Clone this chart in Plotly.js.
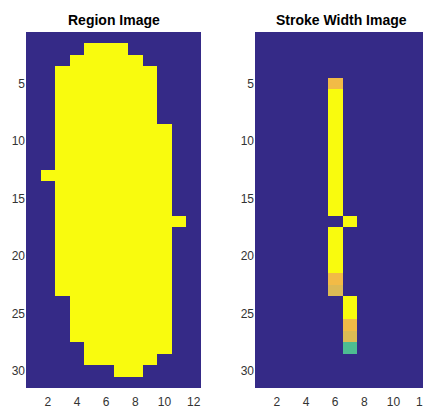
<!DOCTYPE html>
<html>
<head>
<meta charset="utf-8">
<script src="https://cdn.plot.ly/plotly-3.0.1.min.js"></script>
<style>html,body{margin:0;padding:0;background:#fff;}#chart{width:423px;height:410px;}</style>
</head>
<body>
<div id="chart"></div>
<script>
// Region image: 31 rows x 12 columns, 1 = region pixel
var regionRows = [
  "000000000000",
  "000011100000",
  "000111110000",
  "001111111000",
  "001111111000",
  "001111111000",
  "001111111000",
  "001111111000",
  "001111111100",
  "001111111100",
  "001111111100",
  "001111111100",
  "011111111100",
  "001111111100",
  "001111111100",
  "001111111100",
  "001111111110",
  "001111111100",
  "001111111100",
  "001111111100",
  "001111111100",
  "001111111100",
  "001111111100",
  "000111111100",
  "000111111100",
  "000111111100",
  "000111111100",
  "000011111100",
  "000011111000",
  "000000110000",
  "000000000000"
];

// Stroke width image: non-zero pixels (row, column, value)
var strokeRow   = [5, 6, 7, 8, 9, 10, 11, 12, 13, 14, 15, 16, 17, 18, 19, 20, 21, 22, 23, 24, 25, 26, 27, 28];
var strokeCol   = [6, 6, 6, 6, 6, 6, 6, 6, 6, 6, 6, 6, 7, 6, 6, 6, 6, 6, 6, 7, 7, 7, 7, 7];
var strokeValue = [3, 3.606, 3.606, 3.606, 3.606, 3.606, 3.606, 3.606, 3.606, 3.606, 3.606, 3.606,
                   3.606, 3.606, 3.606, 3.606, 3.606, 3, 2.828, 3.606, 3.606, 3, 2.828, 2];

var nRows = 31, nCols = 12;
var xTicks = [2, 4, 6, 8, 10, 12];
var yTicks = [5, 10, 15, 20, 25, 30];

var cols = [], rows = [];
for (var c = 1; c <= nCols; c++) cols.push(c);
for (var r = 1; r <= nRows; r++) rows.push(r);

var zRegion = regionRows.map(function (s) { return s.split('').map(Number); });
var zStroke = rows.map(function () { return cols.map(function () { return 0; }); });
strokeRow.forEach(function (r, i) { zStroke[r - 1][strokeCol[i] - 1] = strokeValue[i]; });

// MATLAB parula (R2014b) colormap sampled
var parula = [
  [0.2081,0.1663,0.5292],[0.2081,0.2386,0.6771],[0.1253,0.3242,0.8303],[0.0117,0.3875,0.8820],
  [0.0329,0.4430,0.8720],[0.0723,0.4887,0.8467],[0.0749,0.5375,0.8263],[0.0343,0.5966,0.8199],
  [0.0231,0.6418,0.7913],[0.0384,0.6743,0.7436],[0.1133,0.7015,0.6859],[0.2178,0.7250,0.6193],
  [0.3482,0.7424,0.5473],[0.4871,0.7491,0.4840],[0.6099,0.7473,0.4337],[0.7184,0.7411,0.3905],
  [0.8185,0.7327,0.3498],[0.9139,0.7258,0.3063],[0.9938,0.7455,0.2403],[0.9880,0.8066,0.1794],
  [0.9626,0.8705,0.1309],[0.9763,0.9831,0.0538]
];
var colorscale = parula.map(function (p, i) {
  return [i / (parula.length - 1), 'rgb(' + Math.round(p[0]*255) + ',' + Math.round(p[1]*255) + ',' + Math.round(p[2]*255) + ')'];
});

var tickFont = {family: 'Liberation Sans, Arial, sans-serif', size: 12, color: '#333333'};

function axisX(domain, range) {
  return {domain: domain, range: range, tickvals: xTicks, ticktext: xTicks.map(String),
    showgrid: false, zeroline: false, showline: false, ticks: '', ticklen: 0,
    ticklabelstandoff: 5, ticklabeloverflow: 'allow',
    tickfont: tickFont, fixedrange: true};
}
function axisY(domain) {
  return {domain: domain, range: [nRows + 0.5, 0.5], tickvals: yTicks, ticktext: yTicks.map(String),
    showgrid: false, zeroline: false, showline: false, ticks: '', ticklen: 0,
    ticklabeloverflow: 'allow',
    tickfont: tickFont, fixedrange: true};
}

var W = 423, H = 410;
var yDom = [1 - 388 / H, 1 - 32 / H];

var data = [
  {type: 'heatmap', x: cols, y: rows, z: zRegion, xaxis: 'x', yaxis: 'y',
   colorscale: colorscale, zmin: 0, zmax: 1, showscale: false, hoverinfo: 'x+y+z'},
  {type: 'heatmap', x: cols, y: rows, z: zStroke, xaxis: 'x2', yaxis: 'y2',
   colorscale: colorscale, zmin: 0, zmax: Math.max.apply(null, strokeValue), showscale: false, hoverinfo: 'x+y+z'}
];

var layout = {
  width: W, height: H,
  margin: {l: 0, r: 0, t: 0, b: 0},
  paper_bgcolor: '#ffffff', plot_bgcolor: '#ffffff',
  showlegend: false,
  xaxis: axisX([26 / W, 201 / W], [0.5, nCols + 0.5]),
  yaxis: axisY(yDom),
  xaxis2: axisX([255 / W, 1], [0.5, 0.5 + (W - 255) / (175 / 12)]),
  yaxis2: Object.assign(axisY(yDom), {anchor: 'x2'}),
  annotations: [
    {text: '<b>Region Image</b>', xref: 'paper', yref: 'paper', x: 113.5 / W, y: 1 - 20 / H,
     xanchor: 'center', yanchor: 'middle', showarrow: false,
     font: {family: 'Liberation Sans, Arial, sans-serif', size: 14, color: '#000000'}},
    {text: '<b>Stroke Width Image</b>', xref: 'paper', yref: 'paper', x: 341 / W, y: 1 - 20 / H,
     xanchor: 'center', yanchor: 'middle', showarrow: false,
     font: {family: 'Liberation Sans, Arial, sans-serif', size: 14, color: '#000000'}}
  ]
};
layout.xaxis2.anchor = 'y2';

Plotly.newPlot('chart', data, layout, {displayModeBar: false, staticPlot: true});
</script>
</body>
</html>
